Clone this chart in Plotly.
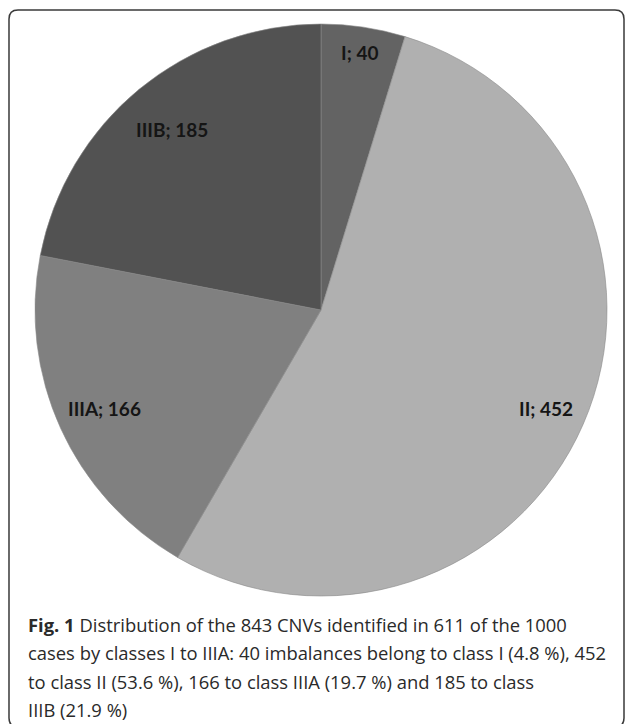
import math
import plotly.graph_objects as go

# CNV counts per class
classes = ["I", "II", "IIIA", "IIIB"]
counts = [40, 452, 166, 185]
slice_colors = ["#636363", "#b0b0b0", "#808080", "#525252"]
# radial position of each inside label, as a fraction of the pie radius
label_radius = [0.91, 0.86, 0.83, 0.82]

caption_lines = [
    "<b>Fig. 1</b> Distribution of the 843 CNVs identified in 611 of the 1000",
    "cases by classes I to IIIA: 40 imbalances belong to class I (4.8 %), 452",
    "to class II (53.6 %), 166 to class IIIA (19.7 %) and 185 to class",
    "IIIB (21.9 %)",
]

W, H = 627, 724
# pie geometry in pixels (centre and radius)
CX, CY, R = 321, 310, 286


def px_x(v):
    return v / W


def px_y(v):
    return 1 - v / H


fig = go.Figure(
    go.Pie(
        labels=classes,
        values=counts,
        sort=False,
        direction="clockwise",
        rotation=0,
        marker=dict(colors=slice_colors, line=dict(color="#8a8a8a", width=0.6)),
        textinfo="none",
        hoverinfo="label+value+percent",
        showlegend=False,
        domain=dict(
            x=[px_x(CX - R), px_x(CX + R)],
            y=[px_y(CY + R), px_y(CY - R)],
        ),
    )
)

# data labels "class; count" at each slice's mid-angle
total = sum(counts)
start = 0.0
for name, v, rf in zip(classes, counts, label_radius):
    mid = (start + v / 2) / total * 2 * math.pi
    start += v
    lx = CX + rf * R * math.sin(mid)
    ly = CY - rf * R * math.cos(mid)
    fig.add_annotation(
        x=px_x(lx), y=px_y(ly), xref="paper", yref="paper",
        text=f"<b>{name}; {v}</b>", showarrow=False,
        xanchor="center", yanchor="middle",
        font=dict(family="Lato, Carlito, sans-serif", size=19, color="#151515"),
    )

# figure caption
for i, line in enumerate(caption_lines):
    fig.add_annotation(
        x=px_x(26), y=px_y(624 + 28.5 * i), xref="paper", yref="paper",
        text=line, showarrow=False, xanchor="left", yanchor="middle",
        font=dict(family="Open Sans, sans-serif", size=18.4, color="#2a2a2a"),
    )

# rounded frame around the figure (paper coordinates)
x0, y0, x1, y1, rr = 9, 10, 624, 727, 9
pts = [
    ("M", x0 + rr, y0), ("L", x1 - rr, y0), ("Q", x1, y0, x1, y0 + rr),
    ("L", x1, y1 - rr), ("Q", x1, y1, x1 - rr, y1),
    ("L", x0 + rr, y1), ("Q", x0, y1, x0, y1 - rr),
    ("L", x0, y0 + rr), ("Q", x0, y0, x0 + rr, y0),
]
segs = []
for p in pts:
    cmd, coords = p[0], p[1:]
    xy = [f"{px_x(coords[k]):.5f},{px_y(coords[k + 1]):.5f}" for k in range(0, len(coords), 2)]
    segs.append(cmd + " " + " ".join(xy))
path = " ".join(segs) + " Z"
fig.add_shape(type="path", path=path, xref="paper", yref="paper",
              line=dict(color="#3a3a3a", width=1.5), layer="above")

fig.update_layout(
    width=W, height=H,
    margin=dict(l=0, r=0, t=0, b=0),
    paper_bgcolor="white", plot_bgcolor="white",
)

fig.write_html("out.html")
